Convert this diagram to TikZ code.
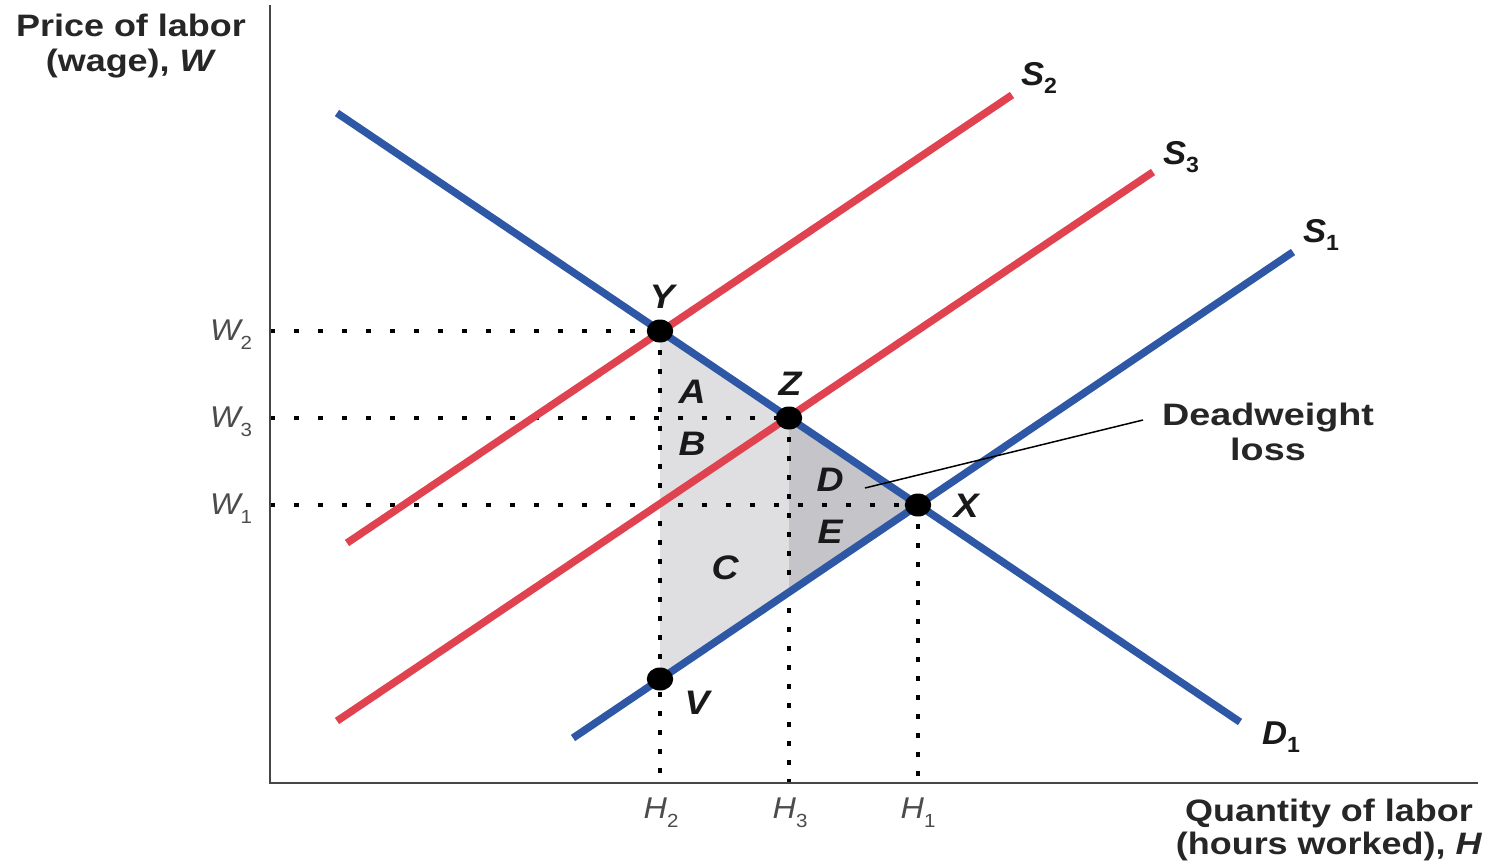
\documentclass[tikz,border=0pt]{standalone}
\usepackage{fontspec}
\setmainfont{Liberation Sans}
\definecolor{dblue}{RGB}{46,88,166}
\definecolor{dred}{RGB}{224,66,80}
\definecolor{lgray}{RGB}{223,223,226}
\definecolor{mgray}{RGB}{196,196,201}
\definecolor{axisgray}{RGB}{70,70,70}
\newcommand{\lowsub}[1]{\raisebox{-0.3em}{\fontsize{19}{19}\selectfont\upshape #1}}
\newcommand{\boldsub}[1]{\raisebox{-0.25em}{\fontsize{22}{22}\selectfont\upshape\bfseries #1}}
\tikzset{
  demandline/.style={draw=dblue, line width=7.5pt},
  redsupply/.style={draw=dred, line width=7.5pt},
  bluesupply/.style={draw=dblue, line width=7.5pt},
  axisline/.style={draw=axisgray, line width=2pt},
  hguide/.style={draw=black, line width=4.5pt, dash pattern=on 4.5pt off 19.5pt},
  vguide/.style={draw=black, line width=4.5pt, dash pattern=on 4.5pt off 14.5pt},
  eqpt/.style={circle, fill=black, inner sep=0pt, minimum size=23pt, xscale=1.15},
  bigtext/.style={font=\bfseries\fontsize{31}{35}\selectfont, xscale=1.16, inner sep=0pt, align=center, text=black!85},
  ptlabel/.style={font=\bfseries\itshape\fontsize{34}{34}\selectfont, xscale=1.1, inner sep=0pt, text=black!90},
  ticklabel/.style={font=\itshape\fontsize{30}{30}\selectfont, xscale=1.08, text=black!70, inner sep=0pt},
  curvelabel/.style={font=\bfseries\itshape\fontsize{33}{33}\selectfont, xscale=1.05, inner sep=0pt, text=black!90},
  leader/.style={draw=black, line width=1.5pt}
}
\begin{document}
\begin{tikzpicture}[x=1pt,y=-1pt]
\useasboundingbox (0,0) rectangle (1485,861);
% key coordinates
\coordinate (O) at (270,783);
\coordinate (Ytop) at (270,5);
\coordinate (Xend) at (1478,783);
\coordinate (Yp) at (660,331);
\coordinate (Zp) at (789,418);
\coordinate (Xp) at (918,505);
\coordinate (Vp) at (660,679);
\coordinate (S1at3) at (789,592);
\coordinate (W2a) at (270,331);
\coordinate (W3a) at (270,418);
\coordinate (W1a) at (270,505);
\coordinate (H2a) at (660,783);
\coordinate (H3a) at (789,783);
\coordinate (H1a) at (918,783);
\coordinate (D1s) at (337,113);
\coordinate (D1e) at (1240,722);
\coordinate (S1s) at (573,738);
\coordinate (S1e) at (1293,252);
\coordinate (S2s) at (347,543);
\coordinate (S2e) at (1012,95);
\coordinate (S3s) at (337,721);
\coordinate (S3e) at (1153,172);
% shaded areas
\fill[lgray] (Yp) -- (Zp) -- (S1at3) -- (Vp) -- cycle;
\fill[mgray] (Zp) -- (Xp) -- (S1at3) -- cycle;
% guides
\draw[hguide] (W2a) -- (Yp);
\draw[hguide] (W3a) -- (Zp);
\draw[hguide] (W1a) -- (Xp);
\draw[vguide] (Yp) -- (H2a);
\draw[vguide] (Zp) -- (H3a);
\draw[vguide] (Xp) -- (H1a);
% axes
\draw[axisline] (Ytop) -- (O) -- (Xend);
% curves
\draw[redsupply] (S2s) -- (S2e);
\draw[redsupply] (S3s) -- (S3e);
\draw[bluesupply] (S1s) -- (S1e);
\draw[demandline] (D1s) -- (D1e);
% equilibrium points
\node[eqpt] (Y) at (Yp) {};
\node[eqpt] (Z) at (Zp) {};
\node[eqpt] (X) at (Xp) {};
\node[eqpt] (V) at (Vp) {};
% point labels
\node[ptlabel] (Ylab) at (662,297) {Y};
\node[ptlabel] (Zlab) at (790,384) {Z};
\node[ptlabel] (Xlab) at (966,506) {X};
\node[ptlabel] (Vlab) at (697,703) {V};
\node[ptlabel] (Alab) at (692,392) {A};
\node[ptlabel] (Blab) at (692,444) {B};
\node[ptlabel] (Clab) at (725,568) {C};
\node[ptlabel] (Dlab) at (830,480) {D};
\node[ptlabel] (Elab) at (830,532) {E};
% curve labels
\node[curvelabel] (S2lab) at (1039,78) {S\boldsub{2}};
\node[curvelabel] (S3lab) at (1181,157) {S\boldsub{3}};
\node[curvelabel] (S1lab) at (1321,235) {S\boldsub{1}};
\node[curvelabel] (D1lab) at (1281,737) {D\boldsub{1}};
% tick labels
\node[ticklabel] (W2lab) at (231,335) {W\lowsub{2}};
\node[ticklabel] (W3lab) at (231,422) {W\lowsub{3}};
\node[ticklabel] (W1lab) at (231,509) {W\lowsub{1}};
\node[ticklabel] (H2lab) at (661,813) {H\lowsub{2}};
\node[ticklabel] (H3lab) at (790,813) {H\lowsub{3}};
\node[ticklabel] (H1lab) at (918,813) {H\lowsub{1}};
% axis titles
\node[bigtext, anchor=north] (ytitle) at (131,14) {Price of labor\\(wage), \textit{W}};
\node[bigtext, anchor=north] (xtitle) at (1329,799) {Quantity of labor\\[-2pt](hours worked), \textit{H}};
% deadweight loss
\node[bigtext, anchor=north, xscale=1.05] (dwl) at (1268,403) {Deadweight\\loss};
\coordinate (dwlfrom) at (1143,420);
\coordinate (dwlto) at (865,488);
\draw[leader] (dwlfrom) -- (dwlto);
\end{tikzpicture}
\end{document}
